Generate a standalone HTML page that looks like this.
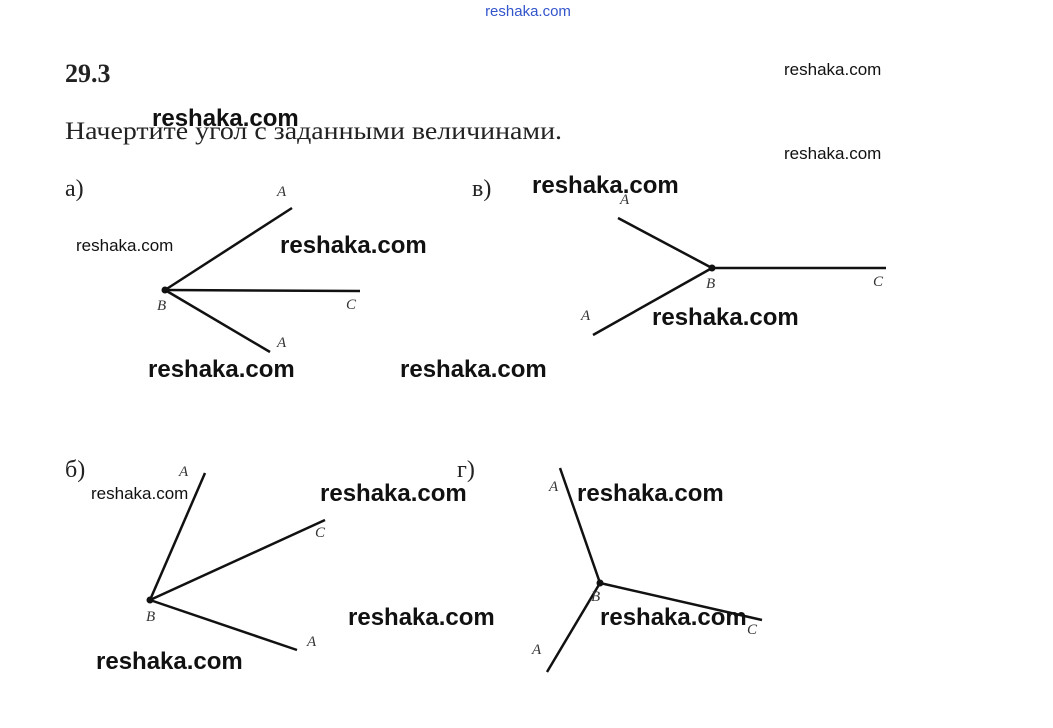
<!DOCTYPE html>
<html><head><meta charset="utf-8"><style>
html,body{margin:0;padding:0;background:#fff;}
svg{display:block;}
.s{font-family:"Liberation Serif",serif;fill:#222;}
.w{font-family:"Liberation Sans",sans-serif;fill:#111;}
.b{font-family:"Liberation Sans",sans-serif;fill:#111;font-weight:bold;font-size:24px;}
.sm{font-family:"Liberation Sans",sans-serif;fill:#111;font-size:17px;}
.l{font-family:"Liberation Serif",serif;font-style:italic;fill:#333;font-size:15px;}
line{stroke:#111;stroke-width:2.5;}
</style></head><body>
<svg width="1053" height="728" viewBox="0 0 1053 728">
<text x="528" y="16" text-anchor="middle" font-family="Liberation Sans,sans-serif" font-size="15" fill="#3355cc">reshaka.com</text>
<text class="s" x="65" y="82" font-size="26" font-weight="bold">29.3</text>
<text class="sm" x="784" y="75">reshaka.com</text>
<text class="sm" x="784" y="159">reshaka.com</text>
<text class="s" x="65" y="139" font-size="25" textLength="497" lengthAdjust="spacingAndGlyphs">Начертите угол с заданными величинами.</text>
<text class="b" x="152" y="126">reshaka.com</text>
<text class="s" x="65" y="196" font-size="24">а)</text>
<text class="s" x="472" y="196" font-size="24">в)</text>
<text class="s" x="65" y="477" font-size="24">б)</text>
<text class="s" x="457" y="477" font-size="24">г)</text>

<line x1="165" y1="290" x2="292" y2="208"/>
<line x1="165" y1="290" x2="360" y2="291"/>
<line x1="165" y1="290" x2="270" y2="352"/>
<circle cx="165" cy="290" r="3.5" fill="#111"/>
<text class="l" x="277" y="196">A</text>
<text class="l" x="157" y="310">B</text>
<text class="l" x="346" y="309">C</text>
<text class="l" x="277" y="347">A</text>

<line x1="618" y1="218" x2="712" y2="268"/>
<line x1="712" y1="268" x2="886" y2="268"/>
<line x1="593" y1="335" x2="712" y2="268"/>
<circle cx="712" cy="268" r="3.5" fill="#111"/>
<text class="l" x="620" y="204">A</text>
<text class="l" x="706" y="288">B</text>
<text class="l" x="873" y="286">C</text>
<text class="l" x="581" y="320">A</text>

<line x1="150" y1="600" x2="205" y2="473"/>
<line x1="150" y1="600" x2="325" y2="520"/>
<line x1="150" y1="600" x2="297" y2="650"/>
<circle cx="150" cy="600" r="3.5" fill="#111"/>
<text class="l" x="179" y="476">A</text>
<text class="l" x="315" y="537">C</text>
<text class="l" x="146" y="621">B</text>
<text class="l" x="307" y="646">A</text>

<line x1="600" y1="583" x2="560" y2="468"/>
<line x1="600" y1="583" x2="762" y2="620"/>
<line x1="600" y1="583" x2="547" y2="672"/>
<circle cx="600" cy="583" r="3.5" fill="#111"/>
<text class="l" x="549" y="491">A</text>
<text class="l" x="591" y="601">B</text>
<text class="l" x="747" y="634">C</text>
<text class="l" x="532" y="654">A</text>

<text class="sm" x="76" y="251">reshaka.com</text>
<text class="b" x="280" y="253">reshaka.com</text>
<text class="b" x="532" y="193">reshaka.com</text>
<text class="b" x="652" y="325">reshaka.com</text>
<text class="b" x="148" y="377">reshaka.com</text>
<text class="b" x="400" y="377">reshaka.com</text>
<text class="sm" x="91" y="499">reshaka.com</text>
<text class="b" x="320" y="501">reshaka.com</text>
<text class="b" x="577" y="501">reshaka.com</text>
<text class="b" x="348" y="625">reshaka.com</text>
<text class="b" x="600" y="625">reshaka.com</text>
<text class="b" x="96" y="669">reshaka.com</text>
</svg>
</body></html>
